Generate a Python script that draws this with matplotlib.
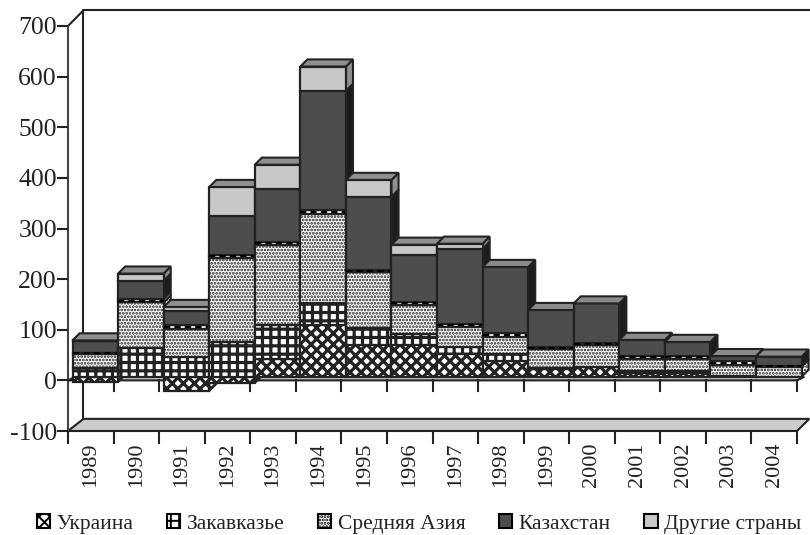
import matplotlib
matplotlib.use("Agg")
import matplotlib.pyplot as plt
from matplotlib.patches import Patch

plt.rcParams['font.family'] = ['Liberation Serif', 'DejaVu Serif']

years = [1989, 1990, 1991, 1992, 1993, 1994, 1995, 1996,
         1997, 1998, 1999, 2000, 2001, 2002, 2003, 2004]
ukraine = [-10, 0, -28, -12, 36, 103, 63, 63, 46, 32, 16, 20, 7, 7, 0, 0]
caucasus = [18, 57, 40, 68, 67, 42, 34, 22, 13, 14, 2, 0, 5, 4, 2, 0]
asia = [27, 90, 55, 167, 158, 176, 110, 57, 40, 33, 36, 43, 24, 25, 22, 20]
thin_band = [3, 7, 8, 6, 6, 8, 4, 6, 6, 8, 5, 4, 5, 5, 7, 2]
kazakhstan = [23, 36, 27, 77, 105, 236, 145, 93, 148, 130, 73, 78, 32, 28, 10, 18]
other = [1, 14, 8, 57, 47, 48, 33, 20, 10, 0, 0, 0, 0, 0, 0, 0]

yticks = [-100, 0, 100, 200, 300, 400, 500, 600, 700]
legend_labels = ['Украина', 'Закавказье', 'Средняя Азия', 'Казахстан', 'Другие страны']

INK = '#222222'
# face, hatch, side colour, top colour
styles = [
    ('white', 'xxx', 'white', 'white'),
    ('white', '++', 'white', 'white'),
    ('white', '.....', 'white', 'white'),
    ('white', None, 'white', 'white'),
    ('#4d4d4d', None, '#1c1c1c', '#8a8a8a'),
    ('#c8c8c8', None, '#8f8f8f', '#8f8f8f'),
]

BAR_DX = 0.1      # bars stand a little behind the front plane
BAR_BASE = 7
DEPTH_X = 0.155
DEPTH_Y = 14

fig = plt.figure(figsize=(8.1, 5.35), dpi=100)
ax = fig.add_axes([68 / 810, 1 - 431 / 535, 729 / 810, 405 / 535])
ax.set_xlim(0, len(years))
ax.set_ylim(-100, 700)
for s in ax.spines.values():
    s.set_visible(False)


def poly(xs, ys, **kw):
    ax.fill(xs, ys, clip_on=False, edgecolor=INK, linewidth=1.5, **kw)


# back wall and floor
n = len(years)
poly([0, n, n + 0.27, 0.34], [-100, -100, -76, -76], facecolor='#cccccc', zorder=1)
ax.plot([0.34, 0.34, n + 0.3], [-76, 731, 731], color=INK, lw=1.5, clip_on=False, zorder=1)
ax.plot([0, 0.34], [700, 731], color=INK, lw=1.5, clip_on=False, zorder=1)
ax.plot([0, 0], [-100, 700], color='#444444', lw=1.5, clip_on=False, zorder=1)

# zero plane strip and its ticks
poly([0, n, n + 0.16, 0.16], [0, 0, BAR_BASE, BAR_BASE], facecolor='#cccccc', zorder=1)
for i in range(1, n + 1):
    ax.plot([i, i], [0, -20], color=INK, lw=1.5, clip_on=False, zorder=1)

z = 2
series = [ukraine, caucasus, asia, thin_band, kazakhstan, other]
for i in range(n):
    x0 = i + BAR_DX
    x1 = x0 + 1
    segs = []
    bottom = BAR_BASE
    for k, values in enumerate(series):
        v = values[i]
        if v < 0:
            segs.append((k, BAR_BASE + v, BAR_BASE))
        elif v > 0:
            segs.append((k, bottom, bottom + v))
            bottom += v
    for k, lo, hi in segs:
        face, hatch, side, top = styles[k]
        plt.rcParams['hatch.linewidth'] = 1.3 if k == 2 else 2.3
        poly([x1, x1 + DEPTH_X, x1 + DEPTH_X, x1],
             [lo, lo + DEPTH_Y, hi + DEPTH_Y, hi],
             facecolor=side, hatch=hatch, zorder=z)
        ax.bar(x0, hi - lo, bottom=lo, width=1, align='edge', color=face,
               hatch=hatch, edgecolor=INK, linewidth=1.6, clip_on=False, zorder=z + 1)
        if k == 3:
            ax.hlines((lo + hi) / 2, x0, x1, color='black', lw=1.5,
                      linestyles=(0, (3, 2)), clip_on=False, zorder=z + 1.5)
    k, lo, hi = segs[-1]
    poly([x0, x1, x1 + DEPTH_X, x0 + DEPTH_X],
         [hi, hi, hi + DEPTH_Y, hi + DEPTH_Y],
         facecolor=styles[k][3], zorder=z + 2)
    z += 3

# axis labels
ax.set_xticks(range(n + 1))
ax.set_xticklabels([])
ax.tick_params(axis='x', length=9, width=1.5, color=INK, pad=2)
for i, year in enumerate(years):
    ax.text(i + 0.5, -122, str(year), rotation=90, ha='center', va='top',
            fontsize=16, color='#222222', clip_on=False)
ax.set_yticks(yticks)
ax.set_yticklabels([str(v) for v in yticks], fontsize=18.5, color='#222222')
ax.tick_params(axis='y', length=8, width=1.5, color=INK, pad=0)

plt.rcParams['hatch.linewidth'] = 1.4
handles = [Patch(facecolor=styles[k][0], hatch=styles[k][1], edgecolor='black', linewidth=1.5)
           for k in (0, 1, 2, 4, 5)]
fig.legend(handles, legend_labels, ncol=5, loc='lower left', bbox_to_anchor=(37 / 810, 0.002),
           frameon=False, fontsize=15.5, handlelength=0.62, handleheight=0.62,
           handletextpad=0.3, columnspacing=1.55, labelcolor='#222222',
           borderpad=0, borderaxespad=0)

fig.savefig('out.png', dpi=100)
